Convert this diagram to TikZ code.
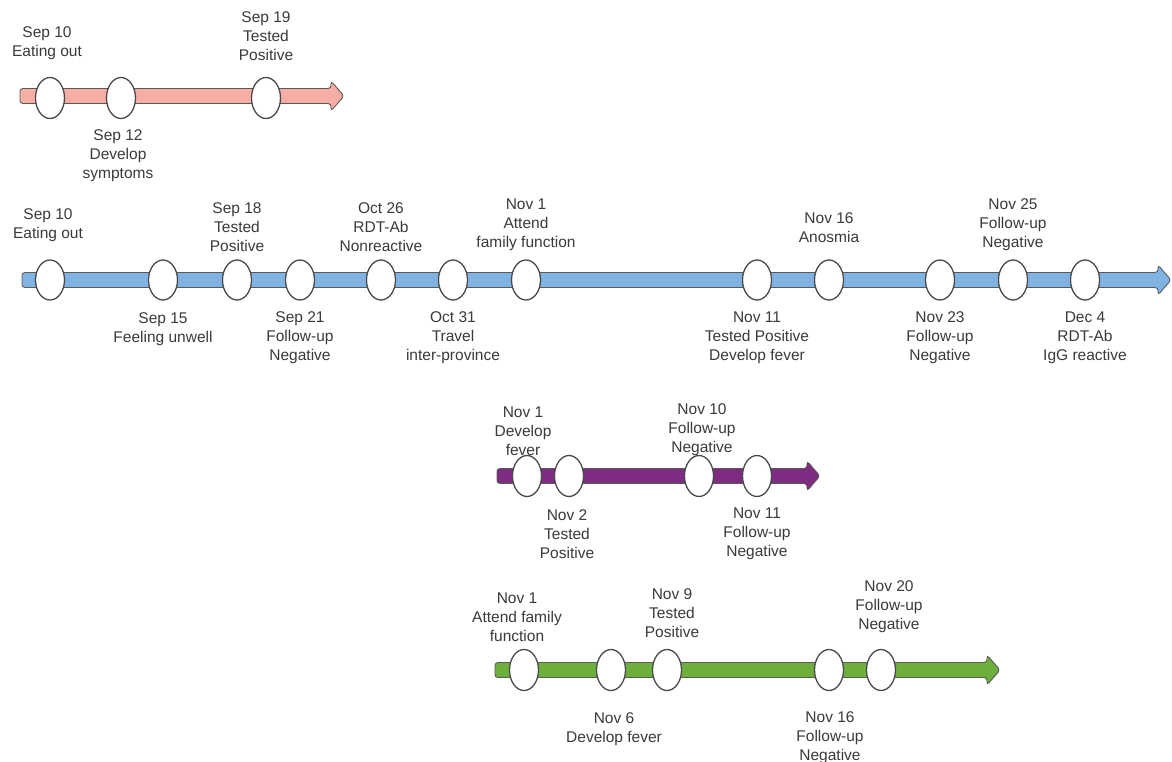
\documentclass[tikz,border=0pt]{standalone}
\usepackage{fontspec}
\setmainfont{Liberation Sans}
\usetikzlibrary{shapes.geometric}
\definecolor{txt}{HTML}{3A3A3A}
\definecolor{evline}{HTML}{4A4A4A}
\definecolor{barline}{HTML}{5A5A5A}
\definecolor{pinkc}{HTML}{F6ADA5}
\definecolor{bluec}{HTML}{80B3E2}
\definecolor{purplec}{HTML}{7E2C82}
\definecolor{greenc}{HTML}{6CAF3C}
\newcommand{\lblfont}{\fontsize{15.5}{19}\selectfont}
% #1 colour, #2 start x, #3 tip x, #4 centre y
\newcommand{\tlbar}[4]{%
  \filldraw[fill=#1, draw=barline, line width=0.9pt, rounded corners=3pt]
    (#2,{#4-7.5}) -- ({#3-13},{#4-7.5}) -- ({#3-13},{#4-15}) -- (#3,#4)
    -- ({#3-13},{#4+15}) -- ({#3-13},{#4+7.5}) -- (#2,{#4+7.5}) -- cycle;}
\tikzset{
  evt/.style={ellipse, draw=evline, fill=white, line width=1.3pt,
    minimum width=29pt, minimum height=41pt, inner sep=0pt},
  lbl/.style={align=center, font=\lblfont, text=txt, inner sep=0pt},
}
\begin{document}
\begin{tikzpicture}[x=1pt,y=-1pt]
\useasboundingbox (0,0) rectangle (1172,762);
\fill[white] (0,0) rectangle (1172,762);

% ---------- pink timeline ----------
\tlbar{pinkc}{20}{344}{96}
\node[evt] (p1) at (50,98) {};
\node[evt] (p2) at (121,98) {};
\node[evt] (p3) at (266,98) {};
\node[lbl] (pl1) at (47,43) {Sep 10\\Eating out};
\node[lbl] (pl3) at (266,36) {Sep 19\\Tested\\Positive};
\node[lbl] (pl2) at (118,156) {Sep 12\\Develop\\symptoms};

% ---------- blue timeline ----------
\tlbar{bluec}{22}{1171}{280}
\node[evt, minimum height=40pt] (b1) at (50,280) {};
\node[evt, minimum height=40pt] (b2) at (163,280) {};
\node[evt, minimum height=40pt] (b3) at (237,280) {};
\node[evt, minimum height=40pt] (b4) at (300,280) {};
\node[evt, minimum height=40pt] (b5) at (381,280) {};
\node[evt, minimum height=40pt] (b6) at (453,280) {};
\node[evt, minimum height=40pt] (b7) at (526,280) {};
\node[evt, minimum height=40pt] (b8) at (757,280) {};
\node[evt, minimum height=40pt] (b9) at (829,280) {};
\node[evt, minimum height=40pt] (b10) at (940,280) {};
\node[evt, minimum height=40pt] (b11) at (1013,280) {};
\node[evt, minimum height=40pt] (b12) at (1085,280) {};
\node[lbl] (bl1) at (48,225) {Sep 10\\Eating out};
\node[lbl] (bl3) at (237,227) {Sep 18\\Tested\\Positive};
\node[lbl] (bl5) at (381,227) {Oct 26\\RDT-Ab\\Nonreactive};
\node[lbl] (bl7) at (526,225) {Nov 1\\Attend\\family function};
\node[lbl] (bl9) at (829,228) {Nov 16\\Anosmia};
\node[lbl] (bl11) at (1013,225) {Nov 25\\Follow-up\\Negative};
\node[lbl] (bl2) at (163,329) {Sep 15\\Feeling unwell};
\node[lbl] (bl4) at (300,338) {Sep 21\\Follow-up\\Negative};
\node[lbl] (bl6) at (453,338) {Oct 31\\Travel\\inter-province};
\node[lbl] (bl8) at (757,338) {Nov 11\\Tested Positive\\Develop fever};
\node[lbl] (bl10) at (940,338) {Nov 23\\Follow-up\\Negative};
\node[lbl] (bl12) at (1085,338) {Dec 4\\RDT-Ab\\IgG reactive};

% ---------- purple timeline ----------
\tlbar{purplec}{497}{820}{476}
\node[evt] (u1) at (527,476) {};
\node[evt] (u2) at (569,476) {};
\node[evt] (u3) at (699,476) {};
\node[evt] (u4) at (757,476) {};
\node[lbl] (ul1) at (523,431) {Nov 1\\Develop\\fever};
\node[lbl] (ul3) at (702,430) {Nov 10\\Follow-up\\Negative};
\node[lbl] (ul2) at (567,534) {Nov 2\\Tested\\Positive};
\node[lbl] (ul4) at (757,534) {Nov 11\\Follow-up\\Negative};

% ---------- green timeline ----------
\tlbar{greenc}{495}{1000}{670}
\node[evt] (g1) at (524,670) {};
\node[evt] (g2) at (611,670) {};
\node[evt] (g3) at (667,670) {};
\node[evt] (g4) at (829,670) {};
\node[evt] (g5) at (881,670) {};
\node[lbl] (gl1) at (517,617) {Nov 1\\Attend family\\function};
\node[lbl] (gl3) at (672,613) {Nov 9\\Tested\\Positive};
\node[lbl] (gl5) at (889,607) {Nov 20\\Follow-up\\Negative};
\node[lbl] (gl2) at (614,729) {Nov 6\\Develop fever};
\node[lbl] (gl4) at (830,738) {Nov 16\\Follow-up\\Negative};
\end{tikzpicture}
\end{document}
